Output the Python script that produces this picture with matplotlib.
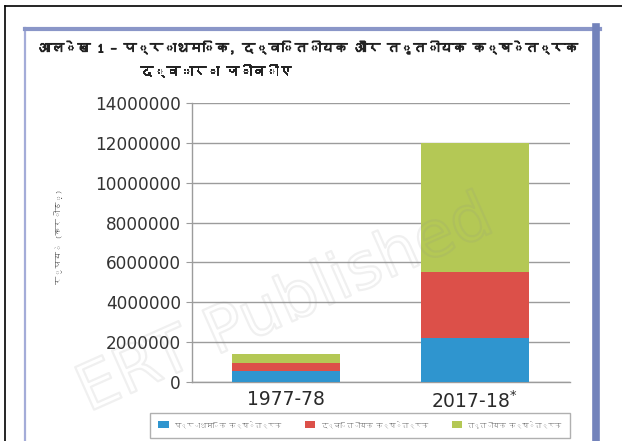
import matplotlib
matplotlib.use("Agg")
import matplotlib.pyplot as plt
import matplotlib.patheffects as pe
from matplotlib import font_manager, ft2font
from matplotlib.lines import Line2D
from matplotlib.ticker import StrMethodFormatter

# data (rupees, crore)
years = ["1977-78", "2017-18$^{*}$"]
primary = [550000, 2200000]
secondary = [400000, 3300000]
tertiary = [450000, 6500000]
sector_names = ["प्राथमिक क्षेत्रक", "द्वितीयक क्षेत्रक", "तृतीयक क्षेत्रक"]
title_line1 = "आलेख 1 – प्राथमिक, द्वितीयक और तृतीयक क्षेत्रक"
title_line2 = "द्वारा जीवीए"
ylabel = "रुपये (करोड़)"

colors = ["#2f95cf", "#dc5049", "#b4c855"]


def find_devanagari():
    # look for any installed font that has devanagari glyphs
    for path in font_manager.findSystemFonts():
        try:
            f = ft2font.FT2Font(path)
            if 0x0915 in f.get_charmap():
                font_manager.fontManager.addfont(path)
                return font_manager.FontProperties(fname=path).get_name()
        except Exception:
            continue
    return None


deva = find_devanagari()
hindi_fam = [deva, "DejaVu Sans"] if deva else ["DejaVu Sans"]
num_fam = ["DejaVu Sans"]

W, H = 622, 441
fig = plt.figure(figsize=(W / 100, H / 100), dpi=100)
fig.patch.set_facecolor("white")
renderer = fig.canvas.get_renderer()


def fit(txt, target, rotated=False):
    # scale the font so the text spans about `target` pixels
    bb = txt.get_window_extent(renderer)
    size = bb.height if rotated else bb.width
    txt.set_fontsize(txt.get_fontsize() * target / size)


# outer black frame and blue box
fig.add_artist(Line2D([5 / W, 1], [1 - 6 / H] * 2, color="black", lw=1.2, transform=fig.transFigure))
fig.add_artist(Line2D([5 / W] * 2, [0, 1 - 6 / H], color="black", lw=1.2, transform=fig.transFigure))
fig.add_artist(Line2D([25 / W] * 2, [0, 1 - 28 / H], color="#a4acd8", lw=1.6, transform=fig.transFigure))
fig.add_artist(Line2D([25 / W, 600 / W], [1 - 29 / H] * 2, color="#8a96c8", lw=3.0, transform=fig.transFigure))
fig.add_artist(Line2D([596 / W] * 2, [0, 1 - 27 / H], color="#7383bb", lw=5.5, transform=fig.transFigure))

ax = fig.add_axes([192 / W, 1 - 382 / H, 378 / W, 279 / H])
x = [0, 1]
bw = 0.573
bottom2 = [p + s for p, s in zip(primary, secondary)]
ax.bar(x, primary, bw, color=colors[0], label=sector_names[0], zorder=3)
ax.bar(x, secondary, bw, bottom=primary, color=colors[1], label=sector_names[1], zorder=3)
ax.bar(x, tertiary, bw, bottom=bottom2, color=colors[2], label=sector_names[2], zorder=3)

ax.set_xlim(-0.5, 1.505)
ax.set_ylim(0, 14000000)
ax.set_yticks(range(0, 14000001, 2000000))
ax.yaxis.set_major_formatter(StrMethodFormatter("{x:.0f}"))
ax.grid(axis="y", color="#9c9c9c", lw=1.0, zorder=0)
ax.set_xticks(x)
ax.set_xticklabels(years, fontsize=13.5, color="#2a2a2a", family=num_fam)
ax.tick_params(axis="x", length=0, pad=6)
ax.tick_params(axis="y", length=4, color="#9c9c9c", pad=4, labelsize=12.2, labelcolor="#333333")
for lab in ax.get_yticklabels():
    lab.set_family(num_fam)
for s in ["top", "right"]:
    ax.spines[s].set_visible(False)
for s in ["left", "bottom"]:
    ax.spines[s].set_color("#9c9c9c")
    ax.spines[s].set_linewidth(1.0)

yl = fig.text(58 / W, 1 - 237 / H, ylabel, rotation=90, ha="center", va="center",
              fontsize=7.5, color="#444444", family=hindi_fam)
fit(yl, 95, rotated=True)

bold = [pe.withStroke(linewidth=0.7, foreground="#222222")]
t1 = fig.text(38 / W, 1 - 48 / H, title_line1, ha="left", va="center", fontsize=12.5,
              color="#222222", family=hindi_fam, path_effects=bold)
fit(t1, 540)
t2 = fig.text(140 / W, 1 - 71 / H, title_line2, ha="left", va="center",
              fontsize=t1.get_fontsize(), color="#222222", family=hindi_fam, path_effects=bold)

leg = fig.legend(loc="upper left", bbox_to_anchor=(150 / W, 1 - 413 / H, 420 / W, 0.0),
                 mode="expand", ncol=3, frameon=True, fancybox=False, borderaxespad=0.0,
                 handlelength=1.0, handleheight=0.6, handletextpad=0.5, borderpad=0.8,
                 prop={"family": hindi_fam, "size": 7.5})
leg.get_frame().set_edgecolor("#9c9c9c")
leg.get_frame().set_linewidth(1.0)
targets = [108, 108, 108]
ratio = min(tg / t.get_window_extent(renderer).width for tg, t in zip(targets, leg.get_texts()))
for t in leg.get_texts():
    t.set_color("#555555")
    t.set_fontsize(7.5 * ratio)

# faint "published" watermark
fig.text(285 / W, 1 - 305 / H, "ERT Published", rotation=24, ha="center", va="center",
         fontsize=46, color=(1, 1, 1, 0), family=["DejaVu Sans"],
         path_effects=[pe.withStroke(linewidth=1.6, foreground=(0.55, 0.55, 0.55, 0.13))],
         zorder=10)

fig.savefig("out.png", dpi=100)
